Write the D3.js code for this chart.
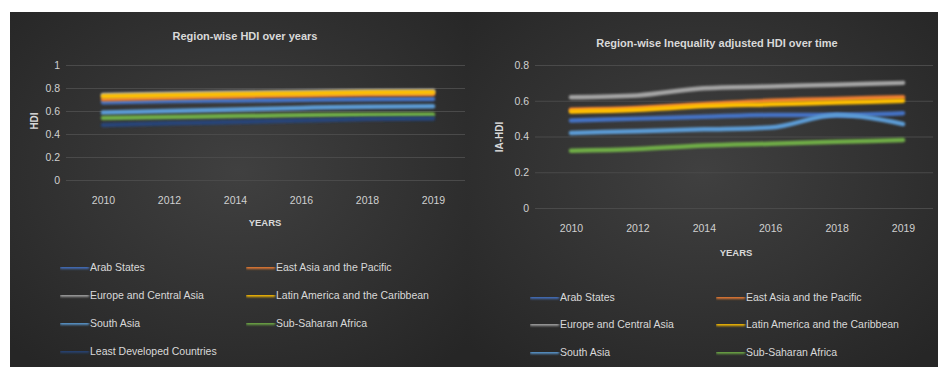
<!DOCTYPE html>
<html>
<head>
<meta charset="utf-8">
<script src="https://cdn.jsdelivr.net/npm/d3@7"></script>
<style>
  body { margin: 0; background: #ffffff; }
  svg { display: block; }
  text { fill: #d9d9d9; font-family: "Liberation Sans Narrow", "Liberation Sans", Arial, sans-serif; }
</style>
</head>
<body>
<svg id="chart"></svg>
<script>
// categories
var years = ["2010", "2012", "2014", "2016", "2018", "2019"]

// series names + colours (Excel office theme)
var regionsHdi = ["Arab States", "East Asia and the Pacific", "Europe and Central Asia",
                  "Latin America and the Caribbean", "South Asia", "Sub-Saharan Africa",
                  "Least Developed Countries"]
var regionsIa = ["Arab States", "East Asia and the Pacific", "Europe and Central Asia",
                 "Latin America and the Caribbean", "South Asia", "Sub-Saharan Africa"]
var colors = {
    "Arab States": "#4472c4",
    "East Asia and the Pacific": "#ed7d31",
    "Europe and Central Asia": "#a5a5a5",
    "Latin America and the Caribbean": "#ffc000",
    "South Asia": "#5b9bd5",
    "Sub-Saharan Africa": "#70ad47",
    "Least Developed Countries": "#264478"
}

// HDI values (left chart)
var hdiArab   = [0.676, 0.686, 0.692, 0.697, 0.703, 0.705]
var hdiEastAs = [0.703, 0.715, 0.727, 0.737, 0.745, 0.747]
var hdiEurope = [0.740, 0.750, 0.758, 0.765, 0.772, 0.775]
var hdiLatin  = [0.728, 0.738, 0.746, 0.752, 0.760, 0.764]
var hdiSouth  = [0.586, 0.599, 0.613, 0.627, 0.638, 0.641]
var hdiSSA    = [0.540, 0.548, 0.556, 0.562, 0.568, 0.570]
var hdiLdc    = [0.479, 0.493, 0.505, 0.517, 0.530, 0.534]

// IA-HDI values (right chart)
var iaArab   = [0.49, 0.50, 0.51, 0.52, 0.52, 0.53]
var iaEastAs = [0.55, 0.56, 0.58, 0.60, 0.61, 0.62]
var iaEurope = [0.62, 0.63, 0.67, 0.68, 0.69, 0.70]
var iaLatin  = [0.54, 0.55, 0.57, 0.58, 0.59, 0.60]
var iaSouth  = [0.42, 0.43, 0.44, 0.45, 0.52, 0.47]
var iaSSA    = [0.32, 0.33, 0.35, 0.36, 0.37, 0.38]

var hdiTicks = [0, 0.2, 0.4, 0.6, 0.8, 1]
var iaTicks = [0, 0.2, 0.4, 0.6, 0.8]

var hdiSeries = [hdiArab, hdiEastAs, hdiEurope, hdiLatin, hdiSouth, hdiSSA, hdiLdc]
var iaSeries = [iaArab, iaEastAs, iaEurope, iaLatin, iaSouth, iaSSA]

var dimensions = { width: 938, height: 367 }

var svg = d3.select("#chart")
            .attr("width", dimensions.width)
            .attr("height", dimensions.height)

var defs = svg.append("defs")
var grad = defs.append("radialGradient")
               .attr("id", "bg")
               .attr("cx", "50%").attr("cy", "45%").attr("r", "70%")
grad.append("stop").attr("offset", "0%").attr("stop-color", "#404040")
grad.append("stop").attr("offset", "100%").attr("stop-color", "#262626")

var glow = defs.append("filter").attr("id", "glow")
               .attr("filterUnits", "userSpaceOnUse")
               .attr("x", 0).attr("y", 0).attr("width", dimensions.width).attr("height", dimensions.height)
glow.append("feGaussianBlur").attr("stdDeviation", 0.8)

function drawPanel(cfg) {
    var g = svg.append("g")

    g.append("rect")
     .attr("x", cfg.left).attr("y", cfg.top)
     .attr("width", cfg.right - cfg.left).attr("height", dimensions.height - cfg.top)
     .style("fill", "url(#bg)")

    var xScale = d3.scalePoint()
                   .domain(years)
                   .range(cfg.xRange)
    var yScale = d3.scaleLinear()
                   .domain(cfg.yDomain)
                   .range(cfg.yRange)

    // gridlines + y labels
    var yAxisgen = d3.axisLeft(yScale)
                     .tickValues(cfg.ticks)
                     .tickSize(-(cfg.gridRight - cfg.gridLeft))
                     .tickPadding(cfg.gridLeft - cfg.tickX)
                     .tickFormat(d => d3.format("~g")(d))
    var yAxis = g.append("g")
                 .attr("transform", `translate(${cfg.gridLeft},0)`)
                 .call(yAxisgen)
    yAxis.select(".domain").remove()
    yAxis.selectAll(".tick line").style("stroke", "#4a4a4a").style("stroke-width", 1)
    yAxis.selectAll(".tick text").style("font-size", "10.5px").style("fill", "#d0d0d0")

    var xAxisgen = d3.axisBottom(xScale).tickSize(0)
    var xAxis = g.append("g")
                 .attr("transform", `translate(0,${cfg.xLabelY})`)
                 .call(xAxisgen)
    xAxis.select(".domain").remove()
    xAxis.selectAll(".tick text").style("font-size", "10.5px").style("fill", "#d0d0d0")

    var line = d3.line()
                 .x((d, i) => xScale(years[i]))
                 .y(d => yScale(d))
                 .curve(d3.curveMonotoneX)

    cfg.series.forEach(function(vals, i) {
        g.append("path")
         .datum(vals)
         .attr("d", line)
         .style("fill", "none")
         .style("stroke", colors[cfg.names[i]])
         .style("stroke-width", 4.5)
         .style("stroke-linecap", "round")
         .style("filter", "url(#glow)")
    })

    g.append("text")
     .attr("x", cfg.titleX).attr("y", cfg.titleY)
     .attr("text-anchor", "middle")
     .style("font-size", "11px").style("font-weight", "bold")
     .style("font-family", "'Liberation Sans', Arial, sans-serif")
     .text(cfg.title)

    g.append("text")
     .attr("x", cfg.xTitleX).attr("y", cfg.xTitleY)
     .attr("text-anchor", "middle")
     .style("font-size", "9.5px").style("font-weight", "bold")
     .text("YEARS")

    g.append("text")
     .attr("transform", `translate(${cfg.yTitleX},${cfg.yTitleY}) rotate(-90)`)
     .attr("text-anchor", "middle")
     .style("font-size", "10px").style("font-weight", "bold")
     .text(cfg.yTitle)

    // legend
    var legend = g.selectAll(".legend")
                  .data(cfg.names)
                  .enter()
                  .append("g")
                  .attr("transform", (d, i) => `translate(${cfg.legendCols[i % 2]},${cfg.legendRows[Math.floor(i / 2)]})`)
    legend.append("line")
          .attr("x1", 0).attr("x2", 29)
          .style("stroke", d => colors[d])
          .style("stroke-width", 3.5)
          .style("filter", "url(#glow)")
    legend.append("text")
          .attr("x", 30).attr("dy", "0.35em")
          .style("font-size", "10.5px")
          .text(d => d)
}

drawPanel({
    left: 10, right: 467, top: 12,
    xRange: [103, 433], yDomain: [0, 1], yRange: [180, 65],
    ticks: hdiTicks, gridLeft: 66, gridRight: 465, tickX: 60,
    xLabelY: 194,
    series: hdiSeries, names: regionsHdi,
    title: "Region-wise HDI over years", titleX: 245, titleY: 40,
    xTitleX: 265, xTitleY: 226, yTitle: "HDI", yTitleX: 38, yTitleY: 121,
    legendCols: [60, 246], legendRows: [267, 295, 323, 351]
})

drawPanel({
    left: 467, right: 938, top: 12,
    xRange: [571, 903], yDomain: [0, 0.8], yRange: [208, 65],
    ticks: iaTicks, gridLeft: 535, gridRight: 933, tickX: 529,
    xLabelY: 222,
    series: iaSeries, names: regionsIa,
    title: "Region-wise Inequality adjusted HDI over time", titleX: 717, titleY: 47,
    xTitleX: 736, xTitleY: 256, yTitle: "IA-HDI", yTitleX: 503, yTitleY: 137,
    legendCols: [530, 716], legendRows: [297, 324, 352]
})
</script>
</body>
</html>
